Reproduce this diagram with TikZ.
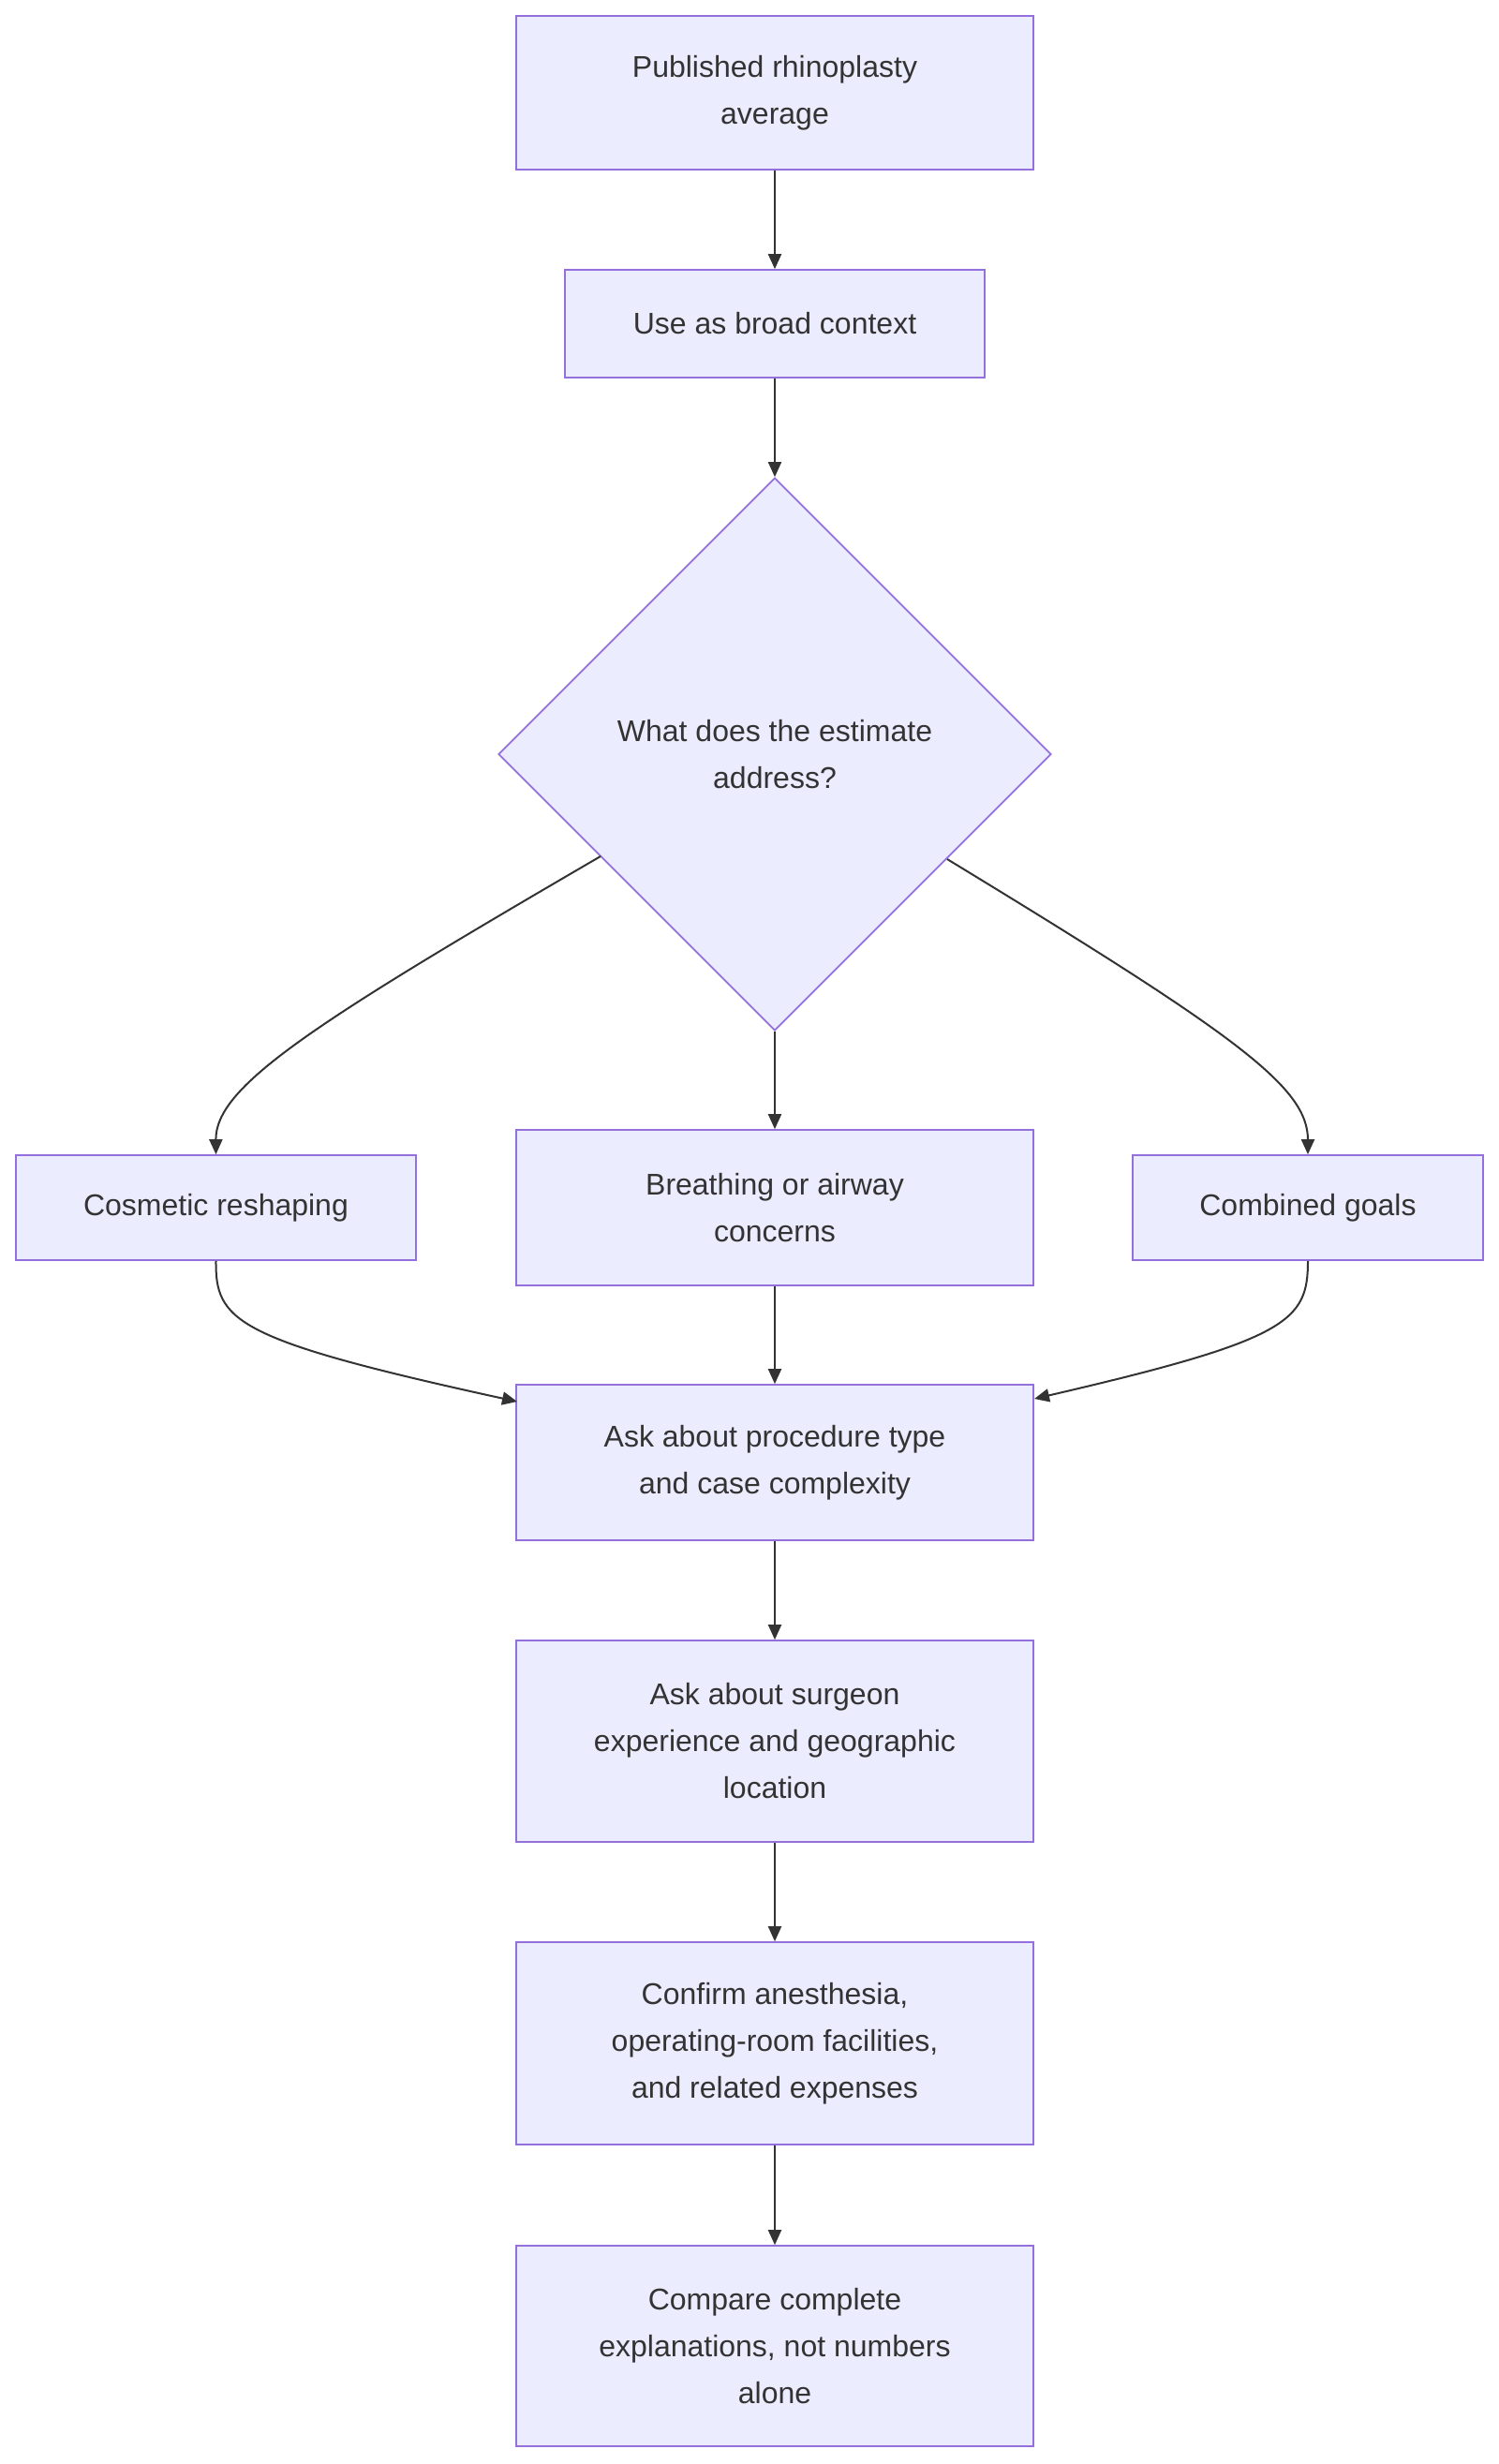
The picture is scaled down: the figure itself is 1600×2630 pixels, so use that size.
\documentclass[tikz,border=0pt]{standalone}
\usepackage{fontspec}
\setmainfont{Liberation Sans}
\usetikzlibrary{shapes.geometric,arrows.meta}
\definecolor{nf}{HTML}{ECECFF}
\definecolor{ns}{HTML}{9370DB}
\definecolor{ed}{HTML}{333333}
\definecolor{tx}{HTML}{333333}
\begin{document}
\begin{tikzpicture}[x=0.5pt,y=-0.5pt,
 box/.style={draw=ns,fill=nf,line width=0.85pt,align=center,text=tx,font=\fontsize{16pt}{25pt}\selectfont,inner sep=0pt,minimum width=276pt},
 dia/.style={box,diamond,aspect=1,minimum width=295pt,minimum height=295pt},
 arr/.style={draw=ed,line width=1pt,-{Triangle[length=8pt,width=7pt]}}]
\useasboundingbox (0,0) rectangle (1600,2630);
\node[box,minimum height=82pt] (a) at (827,99) {Published rhinoplasty\\average};
\node[box,minimum width=224pt,minimum height=57.5pt] (b) at (827,345.5) {Use as broad context};
\node[dia] (c) at (827,805) {What does the estimate\\address?};
\node[box,minimum width=213.5pt,minimum height=56pt] (d) at (230.5,1289) {Cosmetic reshaping};
\node[box,minimum height=83pt] (e) at (827,1289) {Breathing or airway\\concerns};
\node[box,minimum width=187pt,minimum height=56pt] (f) at (1396,1289) {Combined goals};
\node[box,minimum height=83pt] (g) at (827,1561) {Ask about procedure type\\and case complexity};
\node[box,minimum height=107.5pt] (h) at (827,1858.5) {Ask about surgeon\\experience and geographic\\location};
\node[box,minimum height=108pt] (i) at (827,2181) {Confirm anesthesia,\\operating-room facilities,\\and related expenses};
\node[box,minimum height=107pt] (j) at (827,2504) {Compare complete\\explanations, not numbers\\alone};
\draw[arr] (a) -- (b);
\draw[arr] (b) -- (c);
\draw[arr] (641,914) .. controls (330,1095) and (230,1160) .. (d.north);
\draw[arr] (c) -- (e);
\draw[arr] (1011,917) .. controls (1320,1105) and (1396,1160) .. (f.north);
\draw[arr] (d.south) .. controls (230,1410) and (250,1430) .. (552,1496);
\draw[arr] (e) -- (g);
\draw[arr] (f.south) .. controls (1396,1410) and (1376,1430) .. (1104,1493);
\draw[arr] (g) -- (h);
\draw[arr] (h) -- (i);
\draw[arr] (i) -- (j);
\end{tikzpicture}
\end{document}
